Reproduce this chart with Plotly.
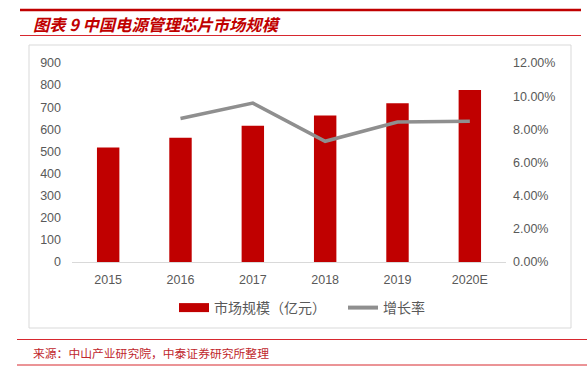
import plotly.graph_objects as go

categories = ["2015", "2016", "2017", "2018", "2019", "2020E"]
market_size = [518, 562, 616, 662, 718, 778]
growth_rate = [None, 0.0865, 0.0958, 0.0728, 0.0844, 0.0848]
left_ticks = [0, 100, 200, 300, 400, 500, 600, 700, 800, 900]
right_ticks = [0, 0.02, 0.04, 0.06, 0.08, 0.10, 0.12]

W, H = 587, 374
L, R, T, B = 72, 81, 63, 112
PW, PH = W - L - R, H - T - B

def fx(px):
    return (px - L) / PW

def fy(py):
    return (H - B - py) / PH

RED = "#C00000"
GRAY_LINE = "#8F8F8F"
TXT = "#595959"
tickfont = dict(family="Liberation Sans, Arial", size=12.5, color=TXT)
legfont = dict(family="Noto Sans CJK SC", size=14, color=TXT)

fig = go.Figure()
fig.add_trace(go.Bar(x=categories, y=market_size, marker=dict(color=RED, line=dict(width=0)),
                     width=0.31, name="市场规模（亿元）", showlegend=False, yaxis="y"))
fig.add_trace(go.Scatter(x=categories, y=growth_rate, mode="lines", line=dict(color=GRAY_LINE, width=3.5),
                         name="增长率", showlegend=False, yaxis="y2"))
# legend entries
fig.add_trace(go.Scatter(x=[None], y=[None], mode="lines", line=dict(color=RED, width=9),
                         name="市场规模（亿元）", yaxis="y", legend="legend"))
fig.add_trace(go.Scatter(x=[None], y=[None], mode="lines", line=dict(color=GRAY_LINE, width=4),
                         name="增长率", yaxis="y2", legend="legend2"))

shapes = [
    dict(type="rect", xref="paper", yref="paper", x0=fx(29), x1=fx(571), y0=fy(45), y1=fy(328),
         line=dict(color="#D9D9D9", width=1), fillcolor="rgba(0,0,0,0)", layer="below"),
    dict(type="line", xref="paper", yref="paper", x0=fx(20), x1=fx(581), y0=fy(10), y1=fy(10),
         line=dict(color=RED, width=2.5)),
    dict(type="line", xref="paper", yref="paper", x0=fx(20), x1=fx(581), y0=fy(35.5), y1=fy(35.5),
         line=dict(color="#D7282F", width=1)),
    dict(type="line", xref="paper", yref="paper", x0=fx(17), x1=fx(587), y0=fy(339.5), y1=fy(339.5),
         line=dict(color="#D7282F", width=1)),
    dict(type="line", xref="paper", yref="paper", x0=fx(17), x1=fx(587), y0=fy(365), y1=fy(365),
         line=dict(color="#D7282F", width=1)),
]

annotations = [
    dict(text="<b><i>图表 9 中国电源管理芯片市场规模</i></b>", xref="paper", yref="paper",
         x=fx(31), y=fy(24), xanchor="left", yanchor="middle", showarrow=False,
         font=dict(family="Noto Sans CJK SC", size=16.3, color=RED)),
    dict(text="来源：中山产业研究院，中泰证券研究所整理", xref="paper", yref="paper",
         x=fx(31), y=fy(352.5), xanchor="left", yanchor="middle", showarrow=False,
         font=dict(family="Noto Sans CJK SC", size=11.8, color="#C0262C")),
]

fig.update_layout(
    width=W, height=H,
    margin=dict(l=L, r=R, t=T, b=B, pad=0),
    paper_bgcolor="white", plot_bgcolor="white",
    xaxis=dict(type="category", tickfont=tickfont, showgrid=False, showline=True,
               linecolor="#D9D9D9", linewidth=1, ticks="", ticklabelstandoff=6, zeroline=False),
    yaxis=dict(range=[0, 900], tickvals=left_ticks, tickfont=tickfont, showgrid=False,
               showline=False, zeroline=False, ticks="", ticklabelstandoff=10),
    yaxis2=dict(range=[0, 0.12], tickvals=right_ticks, tickformat=".2%", tickfont=tickfont,
                overlaying="y", side="right", showgrid=False, showline=False, zeroline=False,
                ticks="", ticklabelstandoff=6),
    legend=dict(orientation="h", x=fx(174), y=fy(308), xanchor="left", yanchor="middle",
                font=legfont, bgcolor="rgba(0,0,0,0)"),
    legend2=dict(orientation="h", x=fx(343), y=fy(308), xanchor="left", yanchor="middle",
                 font=legfont, bgcolor="rgba(0,0,0,0)"),
    shapes=shapes,
    annotations=annotations,
    showlegend=True,
)

fig.write_html("out.html", config={"displayModeBar": False},
               post_script="document.body.style.margin='0px';document.body.style.padding='0px';")
